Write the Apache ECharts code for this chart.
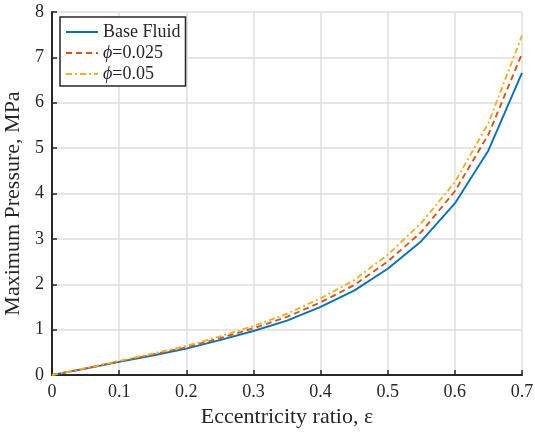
<!DOCTYPE html>
<html><head><meta charset="utf-8">
<script src="https://cdn.jsdelivr.net/npm/echarts@6/dist/echarts.min.js"></script>
<style>html,body{margin:0;padding:0;background:#fff}#c{width:535px;height:435px}</style>
</head><body><div id="c"></div>
<script>
const eccentricity = [0,0.05,0.1,0.15,0.2,0.25,0.3,0.35,0.4,0.45,0.5,0.55,0.6,0.65,0.7];
const baseFluid = [0,0.14,0.29,0.43,0.58,0.77,0.97,1.2,1.5,1.86,2.34,2.95,3.78,4.95,6.66];
const phi025 = [0,0.145,0.30,0.45,0.61,0.81,1.03,1.28,1.6,1.98,2.5,3.15,4.05,5.3,7.08];
const phi05 = [0,0.15,0.31,0.47,0.64,0.85,1.08,1.35,1.69,2.09,2.65,3.35,4.25,5.55,7.48];
const seriesNames = ['Base Fluid','ϕ=0.025','ϕ=0.05'];
const xTicks = [0,0.1,0.2,0.3,0.4,0.5,0.6,0.7];
const yTicks = [0,1,2,3,4,5,6,7,8];

const font = 'Liberation Serif';
const dark = '#262626';
const chart = echarts.init(document.getElementById('c'), null, {renderer:'canvas'});
const pair = (xs, ys) => xs.map((x,i)=>[x, ys[i]]);
chart.setOption({
  animation:false,
  grid:{left:52, right:13, top:12, bottom:60, containLabel:false, outerBoundsMode:'none'},
  legend:{
    left:60, top:17, orient:'vertical',
    backgroundColor:'#fff', borderColor:dark, borderWidth:1.5, borderRadius:0,
    padding:[6,5,3,5], itemGap:3, itemWidth:32, itemHeight:14,
    itemStyle:{opacity:0},
    textStyle:{fontFamily:font, fontSize:18, color:dark,
      rich:{i:{fontFamily:font, fontStyle:'italic', fontSize:18, color:dark}}},
    formatter: n => n.startsWith('ϕ') ? '{i|ϕ}' + n.slice(1) : n,
    data: seriesNames
  },
  xAxis:{
    type:'value', min:0, max:0.7, interval:0.1,
    name:'Eccentricity ratio, ε', nameLocation:'middle', nameGap:28,
    nameTextStyle:{fontFamily:font, fontSize:22, color:dark},
    axisLine:{show:true, onZero:false, lineStyle:{color:dark, width:2}},
    axisTick:{show:true, inside:true, length:5, lineStyle:{color:dark, width:1.5}},
    axisLabel:{fontFamily:font, fontSize:18, color:dark, margin:8,
      formatter: v => xTicks.includes(Math.round(v*10)/10) ? String(Math.round(v*10)/10) : ''},
    splitLine:{show:true, lineStyle:{color:'#dedede', width:1.5}}
  },
  yAxis:{
    type:'value', min:0, max:8, interval:1,
    name:'Maximum Pressure, MPa', nameLocation:'middle', nameGap:10,
    nameTextStyle:{fontFamily:font, fontSize:22, color:dark, padding:[0,20,0,0]},
    axisLine:{show:true, onZero:false, lineStyle:{color:dark, width:2}},
    axisTick:{show:true, inside:true, length:5, lineStyle:{color:dark, width:1.5}},
    axisLabel:{fontFamily:font, fontSize:18, color:dark, margin:8,
      formatter: v => yTicks.includes(v) ? String(v) : ''},
    splitLine:{show:true, lineStyle:{color:'#dedede', width:1.5}}
  },
  series:[
    {name:seriesNames[0], type:'line', symbol:'none', data:pair(eccentricity, baseFluid),
     lineStyle:{color:'#0072BD', width:1.9, type:'solid'}, itemStyle:{color:'#0072BD'}, z:3},
    {name:seriesNames[1], type:'line', symbol:'none', data:pair(eccentricity, phi025),
     lineStyle:{color:'#D95319', width:1.9, type:[6,4]}, itemStyle:{color:'#D95319'}, z:4},
    {name:seriesNames[2], type:'line', symbol:'none', data:pair(eccentricity, phi05),
     lineStyle:{color:'#EDB120', width:1.9, type:[6,3,2,3]}, itemStyle:{color:'#EDB120'}, z:5}
  ]
});
</script></body></html>
